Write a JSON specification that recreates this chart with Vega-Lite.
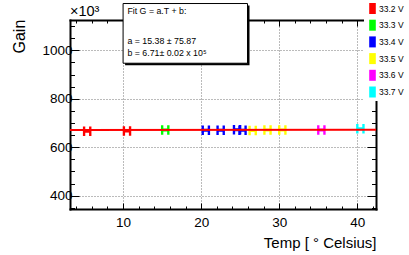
{
  "$schema": "https://vega.github.io/schema/vega-lite/v6.json",
  "width": 306,
  "height": 189,
  "autosize": {"type": "none"},
  "padding": {"left": 70, "top": 20, "right": 33, "bottom": 46},
  "background": "white",
  "config": {
    "view": {"stroke": null},
    "font": "Liberation Sans",
    "axis": {"domain": true, "domainColor": "black", "domainWidth": 2, "domainCap": "square"}
  },
  "resolve": {"axis": {"x": "independent", "y": "independent"}},
  "layer": [
    {
      "data": {"values": [
        {"T": 5.4, "G": 666, "V": "33.2 V"},
        {"T": 10.5, "G": 667, "V": "33.2 V"},
        {"T": 15.4, "G": 671, "V": "33.3 V"},
        {"T": 20.6, "G": 670, "V": "33.4 V"},
        {"T": 22.5, "G": 670, "V": "33.4 V"},
        {"T": 24.6, "G": 672, "V": "33.4 V"},
        {"T": 25.3, "G": 670, "V": "33.4 V"},
        {"T": 26.6, "G": 669, "V": "33.5 V"},
        {"T": 28.5, "G": 671, "V": "33.5 V"},
        {"T": 30.4, "G": 671, "V": "33.5 V"},
        {"T": 35.4, "G": 671, "V": "33.6 V"},
        {"T": 40.4, "G": 676, "V": "33.7 V"}
      ]},
      "mark": {"type": "point", "filled": true, "opacity": 1, "size": 90,
        "shape": "M-0.9,-1H-0.4V-0.3H0.4V-1H0.9V1H0.4V0.3H-0.4V1H-0.9Z"},
      "encoding": {
        "x": {"field": "T", "type": "quantitative",
          "scale": {"domain": [3.2, 42.4], "nice": false, "zero": false},
          "axis": {"orient": "bottom", "format": "d",
            "values": [4,6,8,10,12,14,16,18,20,22,24,26,28,30,32,34,36,38,40,42],
            "grid": true, "gridDash": [1, 2], "gridColor": "#777", "gridWidth": 1,
            "gridOpacity": {"condition": {"test": "datum.value % 10 === 0", "value": 1}, "value": 0},
            "tickSize": {"condition": {"test": "datum.value % 10 === 0", "value": -6}, "value": -3},
            "tickColor": "black", "tickWidth": 1,
            "labelExpr": "datum.value % 10 === 0 ? datum.label : ''",
            "labelOverlap": false, "labelFlush": false,
            "labelFont": "Liberation Sans", "labelFontSize": 13.5, "labelColor": "black", "labelPadding": 12,
            "title": "Temp [ ° Celsius]", "titleFont": "Liberation Sans", "titleFontSize": 15,
            "titleFontWeight": "normal", "titleColor": "black",
            "titleAnchor": "end", "titleAlign": "right", "titleX": 306, "titleY": 38, "titleBaseline": "alphabetic"}},
        "y": {"field": "G", "type": "quantitative",
          "scale": {"domain": [345, 1125], "nice": false, "zero": false},
          "axis": {"orient": "left", "format": "d",
            "values": [350,400,450,500,550,600,650,700,750,800,850,900,950,1000,1050,1100],
            "grid": true, "gridDash": [1, 2], "gridColor": "#777", "gridWidth": 1,
            "gridOpacity": {"condition": {"test": "datum.value % 200 === 0", "value": 1}, "value": 0},
            "tickSize": {"condition": {"test": "datum.value % 200 === 0", "value": -9}, "value": -4.5},
            "tickColor": "black", "tickWidth": 1,
            "labelExpr": "datum.value % 200 === 0 ? datum.label : ''",
            "labelOverlap": false, "labelFlush": false,
            "labelFont": "Liberation Sans", "labelFontSize": 13.5, "labelColor": "black", "labelPadding": 7,
            "title": "Gain", "titleFont": "Liberation Sans", "titleFontSize": 16,
            "titleFontWeight": "normal", "titleColor": "black",
            "titleAlign": "left", "titleAngle": -90,
            "titleX": -51, "titleY": 33, "titleBaseline": "middle"}},
        "color": {"field": "V", "type": "nominal",
          "scale": {"domain": ["33.2 V", "33.3 V", "33.4 V", "33.5 V", "33.6 V", "33.7 V"],
            "range": ["#ff0000", "#00ff00", "#0000ff", "#ffff00", "#ff00ff", "#00ffff"]},
          "legend": {"orient": "none", "legendX": 294, "legendY": -20, "title": null,
            "fillColor": "white", "strokeColor": null, "padding": 3,
            "symbolType": "M-0.6,-1H0.6V1H-0.6Z", "symbolSize": 121, "symbolStrokeWidth": 0,
            "symbolOpacity": 1, "labelOffset": 1, "rowPadding": 5.7,
            "labelFont": "Liberation Sans", "labelFontSize": 8.5, "labelColor": "black"}}
      }
    },
    {
      "data": {"values": [{"T": 3.2, "G": 671.05}, {"T": 42.4, "G": 671.65}]},
      "mark": {"type": "line", "color": "#ff0000", "strokeWidth": 2},
      "encoding": {
        "x": {"field": "T", "type": "quantitative",
          "axis": {"orient": "top",
            "values": [4,6,8,10,12,14,16,18,20,22,24,26,28,30,32,34,36,38,40,42],
            "grid": false, "labels": false, "title": null,
            "tickSize": {"condition": {"test": "datum.value % 10 === 0", "value": -6}, "value": -3},
            "tickColor": "black", "tickWidth": 1}},
        "y": {"field": "G", "type": "quantitative",
          "axis": {"orient": "right",
            "values": [350,400,450,500,550,600,650,700,750,800,850,900,950,1000,1050,1100],
            "grid": false, "labels": false, "title": null,
            "tickSize": {"condition": {"test": "datum.value % 200 === 0", "value": -9}, "value": -4.5},
            "tickColor": "black", "tickWidth": 1}}
      }
    },
    {
      "data": {"values": [{}]},
      "mark": {"type": "rect", "fill": "black", "xOffset": 2, "x2Offset": 2, "yOffset": 2, "y2Offset": 2, "clip": false},
      "encoding": {
        "x": {"datum": 10.0, "type": "quantitative", "axis": null},
        "x2": {"datum": 25.94},
        "y": {"datum": 1193, "type": "quantitative", "axis": null},
        "y2": {"datum": 946.6}
      }
    },
    {
      "data": {"values": [{}]},
      "mark": {"type": "rect", "fill": "white", "stroke": "black", "strokeWidth": 1, "clip": false},
      "encoding": {
        "x": {"datum": 10.0, "type": "quantitative", "axis": null},
        "x2": {"datum": 25.94},
        "y": {"datum": 1193, "type": "quantitative", "axis": null},
        "y2": {"datum": 946.6}
      }
    },
    {
      "data": {"values": [
        {"line": "Fit G = a.T + b:", "G": 1164},
        {"line": "a = 15.38 ± 75.87", "G": 1037},
        {"line": "b = 6.71± 0.02 x 10⁵", "G": 990}
      ]},
      "mark": {"type": "text", "align": "left", "baseline": "middle", "font": "Liberation Sans",
        "fontSize": 8.8, "color": "black", "clip": false},
      "encoding": {
        "x": {"datum": 10.55, "type": "quantitative", "axis": null},
        "y": {"field": "G", "type": "quantitative", "axis": null},
        "text": {"field": "line"}
      }
    },
    {
      "data": {"values": [{}]},
      "mark": {"type": "text", "align": "left", "baseline": "bottom", "font": "Liberation Sans",
        "fontSize": 14.5, "color": "black", "clip": false, "dy": -1},
      "encoding": {
        "x": {"datum": 3.2, "type": "quantitative", "axis": null},
        "y": {"datum": 1125, "type": "quantitative", "axis": null},
        "text": {"value": "×10³"}
      }
    }
  ]
}
